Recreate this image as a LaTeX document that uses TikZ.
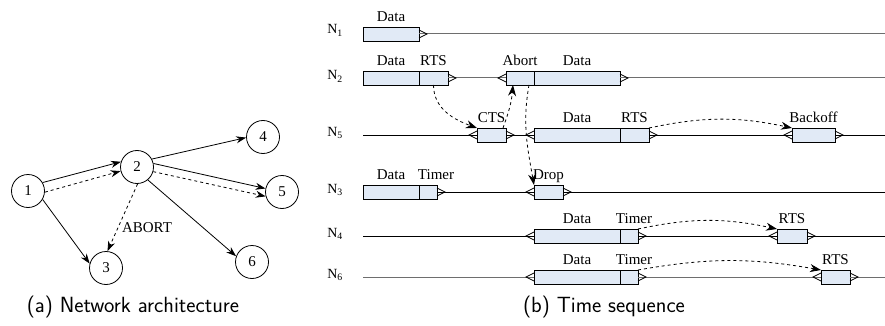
\documentclass[tikz,border=0pt]{standalone}
\usepackage{fontspec}
\setmainfont{Liberation Serif}
\usepackage{xcolor}
\usepackage{tikz}
\usetikzlibrary{arrows.meta, positioning}

\definecolor{pktblue}{RGB}{225,234,246}
\definecolor{linegray}{RGB}{110,110,110}

% open triangles at the ends of a packet
\newcommand{\rtri}[1]{\draw[tri] (#1.east) ++(0,-4) -- ++(8,4) -- ++(-8,4);}
\newcommand{\ltri}[1]{\draw[tri] (#1.west) ++(0,-4) -- ++(-8,4) -- ++(8,4);}

\begin{document}
\begin{tikzpicture}[x=1pt, y=-1pt,
    host/.style={circle, draw, line width=0.8pt, minimum size=33pt, inner sep=0pt, font=\fontsize{15}{15}\selectfont},
    link/.style={-{Stealth[length=10pt, width=7pt]}, line width=0.8pt},
    pkt/.style={draw, line width=0.8pt, fill=pktblue, minimum height=14pt, inner sep=0pt, outer sep=0pt, anchor=west},
    lbl/.style={font=\fontsize{15}{15}\selectfont, inner sep=0pt, text depth=0pt},
    nlbl/.style={anchor=base east, inner sep=0pt, font=\fontsize{14}{14}\selectfont},
    tline/.style={line width=1pt},
    tri/.style={line width=0.7pt},
    cue/.style={-{Stealth[length=11pt, width=8pt]}, dashed, line width=0.8pt},
    captext/.style={font=\sffamily\fontsize{22}{22}\selectfont}
]
    \useasboundingbox (0,0) rectangle (885,326);

    % Network architecture
    \node[host] (n1) at (28,191) {1};
    \node[host] (n2) at (137,167) {2};
    \node[host] (n3) at (106,268) {3};
    \node[host] (n4) at (263,137) {4};
    \node[host] (n5) at (282,192) {5};
    \node[host] (n6) at (252,262) {6};
    \node[lbl] (abort) at (147,228) {ABORT};

    \draw[link] (n1.30) -- (n2.162);
    \draw[link, dashed] (n1.-4) -- (n2.194);
    \draw[link] (n1.-30) -- (n3.165);
    \draw[link] (n2.28) -- (n4.182);
    \draw[link] (n2.12) -- (n5.168);
    \draw[link, dashed] (n2.-16) -- (n5.195);
    \draw[link] (n2.-50) -- (n6.160);
    \draw[link, dashed] (n2.-88) -- (n3.85);

    % Time sequence
    \node[nlbl] (l1) at (343,34) {N\textsubscript{1}};
    \node[nlbl] (l2) at (343,80) {N\textsubscript{2}};
    \node[nlbl] (l5) at (343,136) {N\textsubscript{5}};
    \node[nlbl] (l3) at (343,193) {N\textsubscript{3}};
    \node[nlbl] (l4) at (343,237) {N\textsubscript{4}};
    \node[nlbl] (l6) at (343,278) {N\textsubscript{6}};

    % N1
    \node[pkt, minimum width=56pt] (a1) at (363,34) {};
    \node[lbl, above=5pt of a1] {Data};
    \coordinate (a1end) at (885,34);
    \draw[tline, linegray] (a1.east) -- (a1end);

    % N2
    \node[pkt, minimum width=56pt] (b1) at (363,78) {};
    \node[pkt, minimum width=29pt, right=0pt of b1] (b2) {};
    \node[pkt, minimum width=28pt] (b3) at (506,78) {};
    \node[pkt, minimum width=86pt, right=0pt of b3] (b4) {};
    \node[lbl, above=5pt of b1] {Data};
    \node[lbl, above=5pt of b2] {RTS};
    \node[lbl, above=5pt of b3] {Abort};
    \node[lbl, above=5pt of b4] {Data};
    \coordinate (b4end) at (885,78);
    \draw[tline, linegray] (b2.east) -- (b3.west);
    \draw[tline, linegray] (b4.east) -- (b4end);

    % N5
    \coordinate (c0) at (363,135);
    \node[pkt, minimum width=29pt] (c1) at (477,135) {};
    \node[pkt, minimum width=86pt] (c2) at (534,135) {};
    \node[pkt, minimum width=29pt, right=0pt of c2] (c3) {};
    \node[pkt, minimum width=43pt] (c4) at (792,135) {};
    \node[lbl, above=5pt of c1] {CTS};
    \node[lbl, above=5pt of c2] {Data};
    \node[lbl, above=5pt of c3] {RTS};
    \node[lbl, above=5pt of c4] {Backoff};
    \coordinate (c4end) at (885,135);
    \draw[tline] (c0) -- (c1.west);
    \draw[tline] (c1.east) -- (c2.west);
    \draw[tline] (c3.east) -- (c4.west);
    \draw[tline] (c4.east) -- (c4end);

    % N3
    \node[pkt, minimum width=56pt] (d1) at (363,192) {};
    \node[pkt, minimum width=18pt, right=0pt of d1] (d2) {};
    \node[pkt, minimum width=29pt] (d3) at (534,192) {};
    \node[lbl, above=5pt of d1] {Data};
    \node[lbl, above=5pt of d2, xshift=8pt] {Timer};
    \node[lbl, above=5pt of d3] {Drop};
    \coordinate (d3end) at (885,192);
    \draw[tline] (d2.east) -- (d3.west);
    \draw[tline] (d3.east) -- (d3end);

    % N4
    \coordinate (e0) at (363,236);
    \node[pkt, minimum width=86pt] (e1) at (534,236) {};
    \node[pkt, minimum width=18pt, right=0pt of e1] (e2) {};
    \node[pkt, minimum width=30pt] (e3) at (777,236) {};
    \node[lbl, above=5pt of e1] {Data};
    \node[lbl, above=5pt of e2, xshift=5pt] {Timer};
    \node[lbl, above=5pt of e3] {RTS};
    \coordinate (e3end) at (885,236);
    \draw[tline] (e0) -- (e1.west);
    \draw[tline] (e2.east) -- (e3.west);
    \draw[tline] (e3.east) -- (e3end);

    % N6
    \coordinate (f0) at (363,277);
    \node[pkt, minimum width=86pt] (f1) at (534,277) {};
    \node[pkt, minimum width=18pt, right=0pt of f1] (f2) {};
    \node[pkt, minimum width=29pt] (f3) at (821,277) {};
    \node[lbl, above=5pt of f1] {Data};
    \node[lbl, above=5pt of f2, xshift=5pt] {Timer};
    \node[lbl, above=5pt of f3] {RTS};
    \coordinate (f3end) at (885,277);
    \draw[tline, linegray] (f0) -- (f1.west);
    \draw[tline, linegray] (f2.east) -- (f3.west);
    \draw[tline, linegray] (f3.east) -- (f3end);

    % packet ends
    \foreach \p in {a1,b2,b4,c1,c3,c4,d2,d3,e2,e3,f2,f3} {\rtri{\p}}
    \foreach \p in {b3,c1,c2,c4,d3,e1,e3,f1,f3} {\ltri{\p}}

    % control frames
    \draw[cue] (b2.south) to[out=-90, in=160] (c1.north west);
    \draw[cue] ([xshift=-3pt]c1.north east) to[out=70, in=-95] ([xshift=-7pt]b3.south);
    \draw[cue] ([xshift=-5pt]b3.south east) to[out=-100, in=100] (d3.north west);
    \draw[cue] (c3.north east) to[out=12, in=168] (c4.north west);
    \draw[cue] (e2.north east) to[out=12, in=168] (e3.north west);
    \draw[cue] (f2.north east) to[out=10, in=170] (f3.north west);

    % captions
    \node[captext] (cap1) at (133,307) {(a) Network architecture};
    \node[captext] (cap2) at (604,307) {(b) Time sequence};
\end{tikzpicture}
\end{document}
